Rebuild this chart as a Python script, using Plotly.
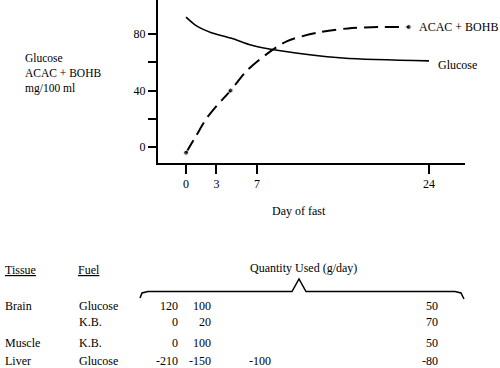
import plotly.graph_objects as go

# ---- data ----
glucose_days = [0, 1, 2.5, 4.5, 6.5, 9, 15.5, 24]
glucose_vals = [92, 86, 81, 77, 72, 68.5, 63, 61]
ketone_days = [0, 1, 2, 3, 4.4, 6, 8, 10, 13, 16, 19, 22]
ketone_vals = [-4, 8, 20, 29, 40, 54, 66, 75, 81, 84, 85, 85]
ketone_marker = [5, 0, 0, 0, 5, 0, 0, 0, 0, 0, 0, 5]
x_ticks = [0, 3, 7, 24]
y_ticks = [0, 20, 40, 60, 80]
y_ticktext = ["0", "", "40", "", "80"]
y_title_lines = ["Glucose", "ACAC + BOHB", "mg/100 ml"]

tissues = ["Brain", "", "Muscle", "Liver"]
fuels = ["Glucose", "K.B.", "K.B.", "Glucose"]
q_day0 = ["120", "0", "0", "-210"]
q_day3 = ["100", "20", "100", "-150"]
q_day7 = ["", "", "", "-100"]
q_day24 = ["50", "70", "50", "-80"]

FONT = "Liberation Serif"
W, H = 500, 368
L, R, T, B = 158, 465, 0, 163  # plot area in pixels


def px(x):
    return (x - L) / (R - L)


def py(y):
    return (B - y) / (B - T)


fig = go.Figure()
fig.add_trace(go.Scatter(x=glucose_days, y=glucose_vals, mode="lines",
                         line=dict(color="black", width=1.6, shape="spline", smoothing=0.8),
                         hoverinfo="skip", showlegend=False))
fig.add_trace(go.Scatter(x=ketone_days, y=ketone_vals, mode="lines+markers",
                         line=dict(color="black", width=2, dash="14px,7px", shape="spline", smoothing=0.8),
                         marker=dict(size=ketone_marker, color="black"),
                         hoverinfo="skip", showlegend=False))

ann = []
ann.append(dict(x=glucose_days[-1], y=glucose_vals[-1], xref="x", yref="y", text="Glucose",
                xanchor="left", yanchor="middle", xshift=7, yshift=-4, showarrow=False))
ann.append(dict(x=ketone_days[-1], y=ketone_vals[-1], xref="x", yref="y", text="ACAC + BOHB",
                xanchor="left", yanchor="middle", xshift=8, yshift=0, showarrow=False))

# y-axis title (three lines)
ann.append(dict(x=px(23), y=py(73), xref="paper", yref="paper", text="<br>".join(y_title_lines),
                xanchor="left", yanchor="middle", align="left", showarrow=False,
                font=dict(size=11.5)))
ann.append(dict(x=px(270), y=py(211), xref="paper", yref="paper", text="Day of fast",
                xanchor="left", yanchor="middle", showarrow=False))

# table headers
ann.append(dict(x=px(3), y=py(270), xref="paper", yref="paper", text="<u>Tissue</u>",
                xanchor="left", yanchor="middle", showarrow=False))
ann.append(dict(x=px(76), y=py(270), xref="paper", yref="paper", text="<u>Fuel</u>",
                xanchor="left", yanchor="middle", showarrow=False))
ann.append(dict(x=px(248), y=py(268), xref="paper", yref="paper", text="Quantity Used (g/day)",
                xanchor="left", yanchor="middle", showarrow=False))

row_y = [306, 322, 343, 361]
col_right = [180, 213, 273, 440]
cols = [q_day0, q_day3, q_day7, q_day24]
for r, yy in enumerate(row_y):
    if tissues[r]:
        ann.append(dict(x=px(3), y=py(yy), xref="paper", yref="paper", text=tissues[r],
                        xanchor="left", yanchor="middle", showarrow=False))
    ann.append(dict(x=px(77), y=py(yy), xref="paper", yref="paper", text=fuels[r],
                    xanchor="left", yanchor="middle", showarrow=False))
    for c, col in enumerate(cols):
        if col[r]:
            ann.append(dict(x=px(col_right[c]), y=py(yy), xref="paper", yref="paper", text=col[r],
                            xanchor="right", yanchor="middle", showarrow=False))

# brace
pts = [(140, 298), (142, 293), (148, 291.5), (292, 291.5), (299, 279), (306, 291.5),
       (455, 291.5), (461, 293), (464, 299)]
path = "M " + " L ".join(f"{px(a):.5f},{py(b):.5f}" for a, b in pts)
shapes = [dict(type="path", xref="paper", yref="paper", path=path,
               line=dict(color="black", width=1.5))]

fig.update_layout(
    width=W, height=H,
    margin=dict(l=L, r=W - R, t=T, b=H - B, pad=0),
    paper_bgcolor="white", plot_bgcolor="white",
    font=dict(family=FONT, size=12, color="black"),
    annotations=ann, shapes=shapes,
    xaxis=dict(range=[-2.77, 27.56], tickvals=x_ticks, showgrid=False, zeroline=False,
               showline=True, linecolor="black", linewidth=2, ticks="outside",
               ticklen=9, tickwidth=1.5, tickcolor="black", fixedrange=True),
    yaxis=dict(range=[-11.3, 104.1], tickvals=y_ticks, ticktext=y_ticktext, showgrid=False,
               zeroline=False, showline=True, linecolor="black", linewidth=2, ticks="outside",
               ticklen=8, tickwidth=1.5, tickcolor="black", fixedrange=True),
)
fig.write_html("out.html", config={"displayModeBar": False},
               post_script="document.body.style.margin='0';document.body.style.overflow='hidden';")
